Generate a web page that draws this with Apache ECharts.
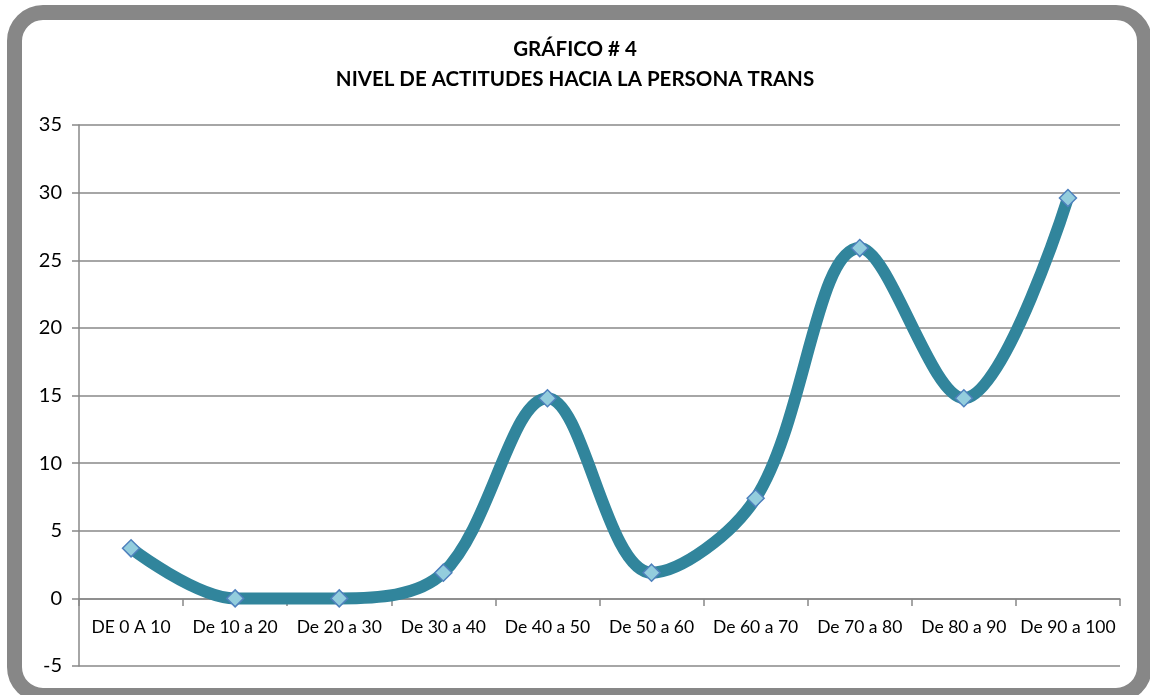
<!DOCTYPE html>
<html>
<head>
<meta charset="utf-8">
<script src="https://cdn.jsdelivr.net/npm/echarts@6/dist/echarts.min.js"></script>
<style>
  html, body { margin: 0; padding: 0; background: #fff; }
  #frame {
    position: absolute; left: 7px; top: 5px;
    width: 1115px; height: 668px;
    border: 15px solid #878787; border-radius: 36px;
  }
  #main { position: absolute; left: 0; top: 0; width: 1150px; height: 695px; }
</style>
</head>
<body>
<div id="frame"></div>
<div id="main"></div>
<script>
const categories = ['DE 0 A 10', 'De 10 a 20', 'De 20 a 30', 'De 30 a 40', 'De 40 a 50',
  'De 50 a 60', 'De 60 a 70', 'De 70 a 80', 'De 80 a 90', 'De 90 a 100']
const values = [3.7, 0, 0, 1.9, 14.8, 1.9, 7.4, 25.9, 14.8, 29.6]

const gridColor = '#888888'
const fontFamily = 'Lato, "Open Sans", sans-serif'

const myChart = echarts.init(document.getElementById('main'))
const option = {
  animation: false,
  title: {
    text: 'GRÁFICO # 4\nNIVEL DE ACTITUDES HACIA LA PERSONA TRANS',
    left: 'center',
    top: 29,
    textStyle: {
      fontFamily: fontFamily,
      fontSize: 20.5,
      fontWeight: 'bold',
      color: '#000',
      lineHeight: 30
    }
  },
  grid: { left: 79, right: 30, top: 125, bottom: 29, containLabel: false },
  xAxis: {
    type: 'category',
    data: categories,
    boundaryGap: true,
    // axis sits on y = 0, labels follow it
    offset: -67,
    axisLine: { onZero: false, lineStyle: { color: gridColor, width: 1.5 } },
    axisTick: { show: true, length: 7, lineStyle: { color: gridColor, width: 1.5 } },
    axisLabel: { color: '#000', fontFamily: fontFamily, fontSize: 17.5, margin: 19, interval: 0 },
    splitLine: { show: false }
  },
  yAxis: {
    type: 'value',
    min: -5,
    max: 35,
    interval: 5,
    axisLine: { show: true, lineStyle: { color: gridColor, width: 1.5 } },
    axisTick: { show: true, length: 7, lineStyle: { color: gridColor, width: 1.5 } },
    axisLabel: { color: '#000', fontFamily: fontFamily, fontSize: 20, margin: 17 },
    splitLine: { show: true, lineStyle: { color: gridColor, width: 1.5 } }
  },
  series: [
    {
      type: 'line',
      data: values,
      smooth: 0.35,
      lineStyle: { color: '#31859C', width: 12 },
      symbol: 'diamond',
      symbolSize: 17,
      itemStyle: { color: '#93CDDD', borderColor: '#4F81BD', borderWidth: 1.5 },
      z: 3
    }
  ]
}
option && myChart.setOption(option)
</script>
</body>
</html>
